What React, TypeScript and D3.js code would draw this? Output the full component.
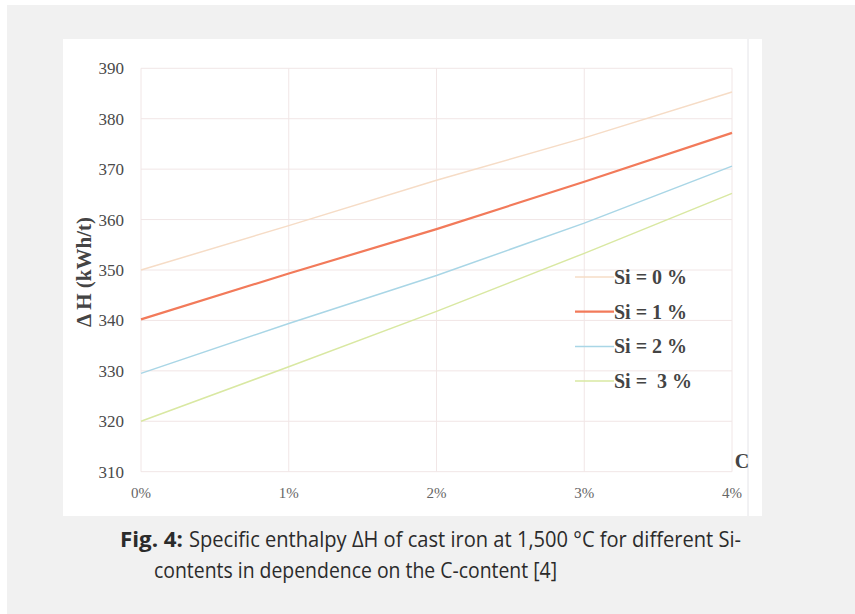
import React, { useEffect, useRef } from 'react'
import * as d3 from 'd3'

const carbon = [0, 1, 2, 3, 4]
const xTickLabels = ['0%', '1%', '2%', '3%', '4%']
const yTicks = [310, 320, 330, 340, 350, 360, 370, 380, 390]

const si0 = [350, 358.8, 367.8, 376.2, 385.3]
const si1 = [340.2, 349.3, 358.1, 367.5, 377.2]
const si2 = [329.5, 339.4, 348.9, 359.3, 370.6]
const si3 = [320, 330.8, 341.8, 353.3, 365.2]

const seriesNames = ['Si = 0 %', 'Si = 1 %', 'Si = 2 %', 'Si =  3 %']
const seriesColors = ['#f6dcc6', '#f27a5a', '#a9d6e6', '#d9e8a2']
const seriesWidths = [1.5, 2.2, 1.5, 1.5]

const App = () => {
  const ref = useRef<SVGSVGElement>(null)

  useEffect(() => {
    const svg = d3.select(ref.current)
    svg.selectAll('*').remove()

    const width = 855
    const height = 614

    svg.attr('width', width).attr('height', height)

    // page background and white chart panel
    svg.append('rect').attr('x', 7).attr('y', 5).attr('width', width - 7).attr('height', height - 5).attr('fill', '#f1f1f1')
    svg.append('rect').attr('x', 63).attr('y', 39).attr('width', 699).attr('height', 477).attr('fill', '#ffffff')
    svg.append('line').attr('x1', 748).attr('x2', 748).attr('y1', 39).attr('y2', 516)
      .attr('stroke', '#e4e4e8').attr('stroke-width', 1)

    const x = d3.scaleLinear().domain([0, 4]).range([141, 732])
    const y = d3.scaleLinear().domain([310, 390]).range([471.7, 68.3])

    const serif = '"Liberation Serif", "DejaVu Serif", serif'

    // grid
    svg.append('g').selectAll('line').data(yTicks).enter().append('line')
      .attr('x1', x(0)).attr('x2', x(4))
      .attr('y1', (d) => y(d)).attr('y2', (d) => y(d))
      .attr('stroke', '#f1e6e6').attr('stroke-width', 1)
    svg.append('g').selectAll('line').data(carbon).enter().append('line')
      .attr('x1', (d) => x(d)).attr('x2', (d) => x(d))
      .attr('y1', y(390)).attr('y2', y(310))
      .attr('stroke', '#f1e6e6').attr('stroke-width', 1)

    // y tick labels
    svg.append('g').selectAll('text').data(yTicks).enter().append('text')
      .attr('x', 124).attr('y', (d) => y(d) + 6)
      .attr('text-anchor', 'end')
      .attr('font-family', serif).attr('font-size', 17)
      .attr('fill', '#4a4a4a')
      .text((d) => d)

    // x tick labels
    svg.append('g').selectAll('text').data(carbon).enter().append('text')
      .attr('x', (d) => x(d)).attr('y', 498)
      .attr('text-anchor', 'middle')
      .attr('font-family', serif).attr('font-size', 15)
      .attr('fill', '#666')
      .text((d, i) => xTickLabels[i])

    // axis titles
    svg.append('text')
      .attr('transform', `translate(91,272) rotate(-90)`)
      .attr('text-anchor', 'middle')
      .attr('font-family', serif).attr('font-size', 21).attr('font-weight', 'bold')
      .attr('fill', '#444')
      .text('Δ H (kWh/t)')
    svg.append('text')
      .attr('x', 742).attr('y', 468)
      .attr('text-anchor', 'middle')
      .attr('font-family', serif).attr('font-size', 20).attr('font-weight', 'bold')
      .attr('fill', '#444')
      .text('C')

    // lines
    const series = [si0, si1, si2, si3]
    const line = d3.line<number>().x((d, i) => x(carbon[i])).y((d) => y(d))
    svg.append('g').selectAll('path').data(series).enter().append('path')
      .attr('d', (d) => line(d))
      .attr('fill', 'none')
      .attr('stroke', (d, i) => seriesColors[i])
      .attr('stroke-width', (d, i) => seriesWidths[i])

    // legend
    const legend = svg.append('g').selectAll('g').data(seriesNames).enter().append('g')
      .attr('transform', (d, i) => `translate(575,${277 + i * 34.7})`)
    legend.append('line')
      .attr('x1', 0).attr('x2', 39).attr('y1', 0).attr('y2', 0)
      .attr('stroke', (d, i) => seriesColors[i])
      .attr('stroke-width', (d, i) => seriesWidths[i])
    legend.append('text')
      .attr('x', 39).attr('y', 7)
      .attr('font-family', serif).attr('font-size', 20).attr('font-weight', 'bold')
      .attr('fill', '#444')
      .style('white-space', 'pre')
      .text((d) => d)

    // caption
    const sans = '"Open Sans", "Noto Sans", sans-serif'
    svg.append('text').attr('x', 120).attr('y', 547)
      .attr('font-family', sans).attr('font-size', 21).attr('font-weight', 'bold').attr('fill', '#2b2b2b')
      .attr('textLength', 63).attr('lengthAdjust', 'spacingAndGlyphs')
      .text('Fig. 4:')
    svg.append('text').attr('x', 189).attr('y', 547)
      .attr('font-family', sans).attr('font-size', 21).attr('fill', '#2b2b2b')
      .attr('textLength', 552).attr('lengthAdjust', 'spacingAndGlyphs')
      .text('Specific enthalpy ΔH of cast iron at 1,500 °C for different Si-')
    svg.append('text').attr('x', 154).attr('y', 578)
      .attr('font-family', sans).attr('font-size', 21).attr('fill', '#2b2b2b')
      .attr('textLength', 403).attr('lengthAdjust', 'spacingAndGlyphs')
      .text('contents in dependence on the C-content [4]')
  }, [])

  return <svg ref={ref} style={{ position: 'absolute', left: 0, top: 0 }}></svg>
}

export default App
